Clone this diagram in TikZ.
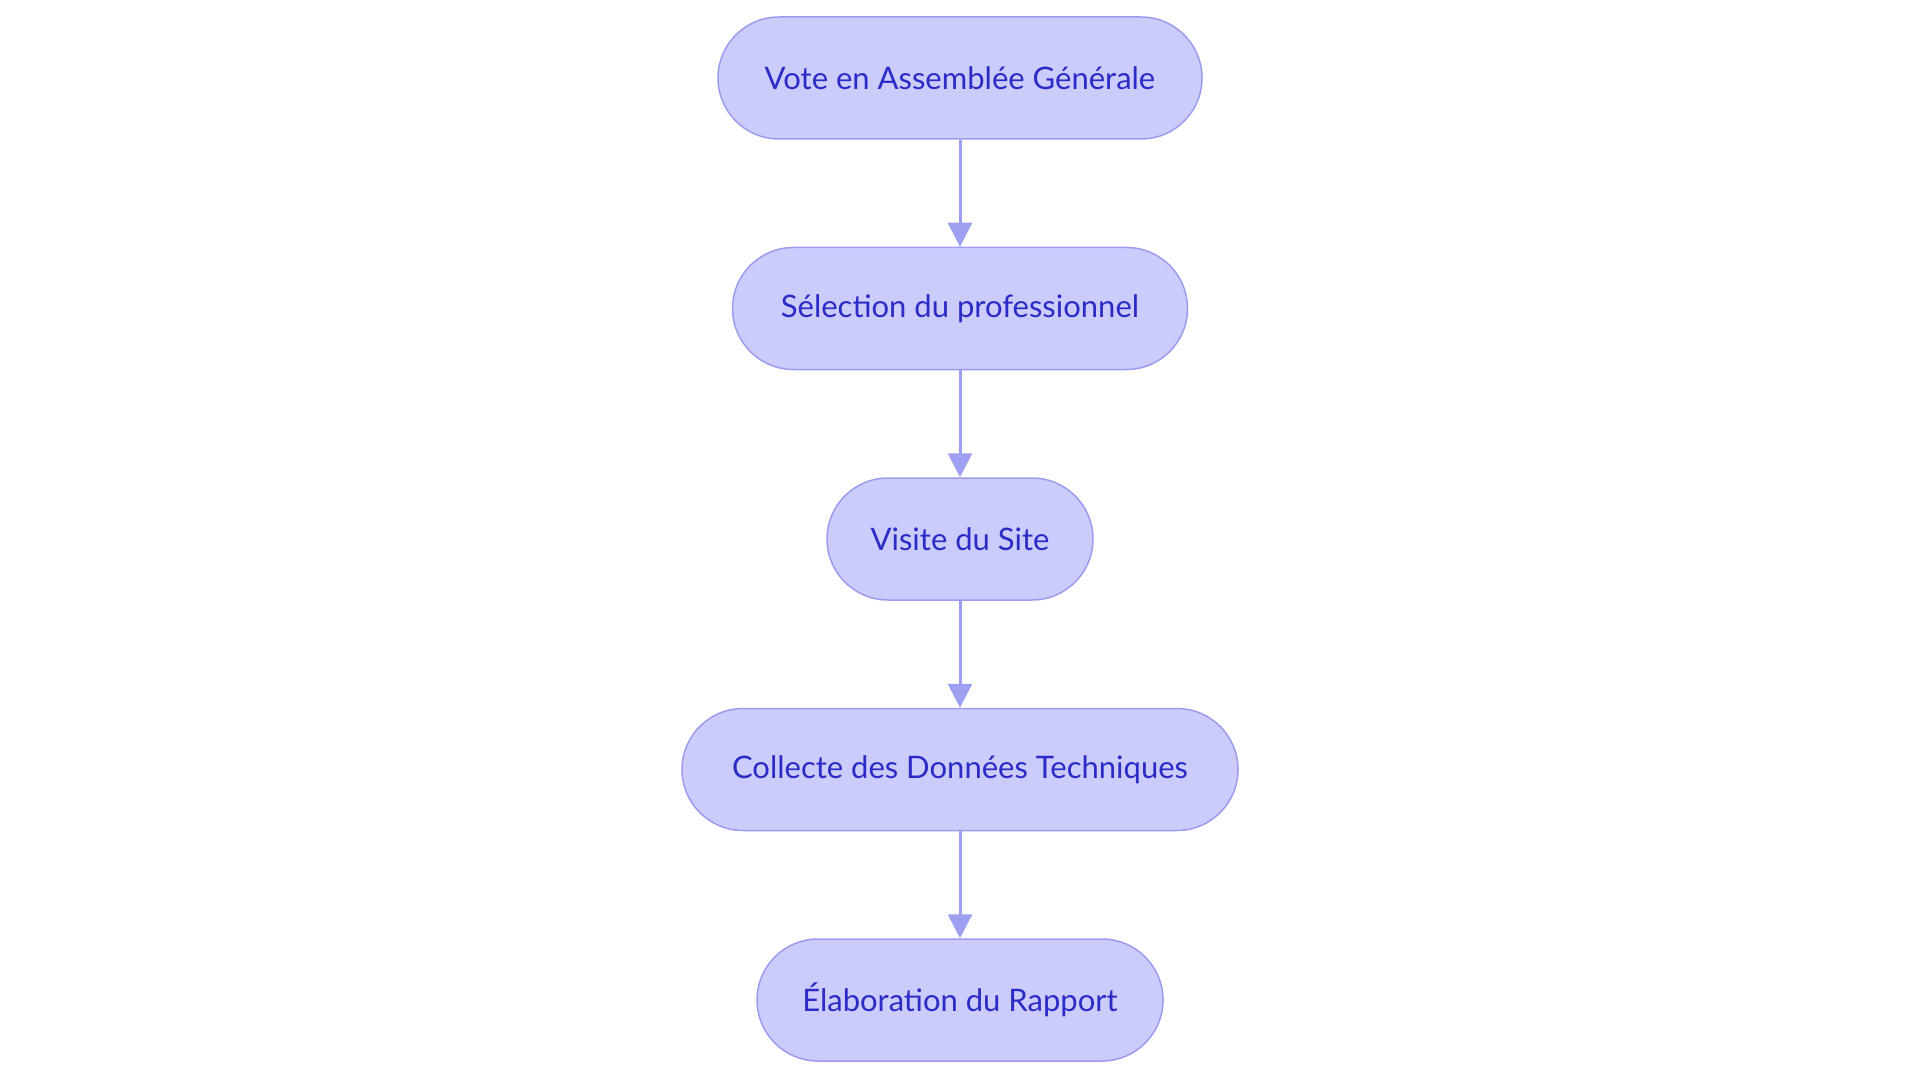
\documentclass[tikz,border=0pt]{standalone}
\usepackage{fontspec}
\setmainfont{Lato}
\usetikzlibrary{arrows.meta,positioning}
\definecolor{boxfill}{HTML}{CBCBFC}
\definecolor{boxline}{HTML}{9C9CEE}
\definecolor{boxtext}{HTML}{2B2BC6}
\definecolor{arrowcol}{HTML}{9DA0F0}
\tikzset{
  etape/.style={draw=boxline, fill=boxfill, text=boxtext, line width=1.5pt,
    rounded corners=61pt, minimum height=122pt, inner xsep=0pt,
    font=\fontsize{31}{37}\selectfont},
  fleche/.style={draw=arrowcol, line width=3pt, -{Triangle[width=24pt,length=24pt]}}
}
\begin{document}
\begin{tikzpicture}[x=1pt,y=-1pt, node distance=107pt]
\useasboundingbox (0,0) rectangle (1920,1083);
\node[etape, minimum width=484pt] (vote) at (960,78) {Vote en Assemblée Générale};
\node[etape, minimum width=455pt, below=of vote] (selection) {Sélection du professionnel};
\node[etape, minimum width=266pt, below=of selection] (visite) {Visite du Site};
\node[etape, minimum width=556pt, below=of visite] (collecte) {Collecte des Données Techniques};
\node[etape, minimum width=406pt, below=of collecte] (rapport) {Élaboration du Rapport};
\draw[fleche] (vote) -- (selection);
\draw[fleche] (selection) -- (visite);
\draw[fleche] (visite) -- (collecte);
\draw[fleche] (collecte) -- (rapport);
\end{tikzpicture}
\end{document}
